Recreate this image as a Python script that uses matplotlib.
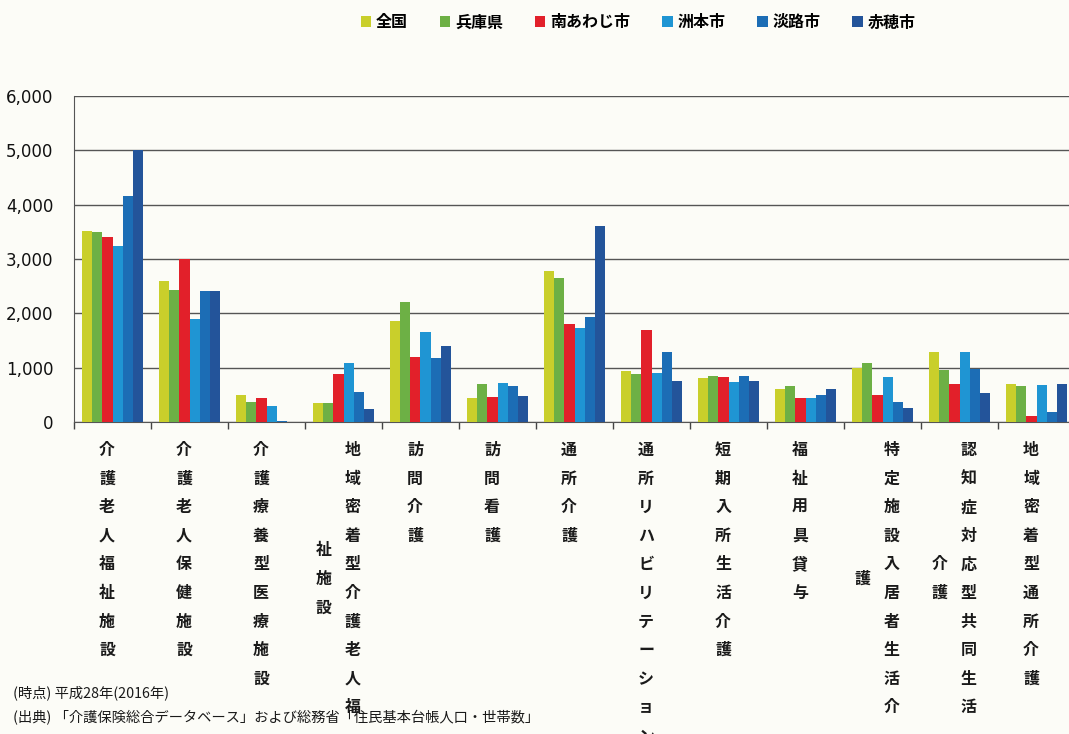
import matplotlib
matplotlib.use("Agg")
from matplotlib import pyplot as plt
import numpy as np

plt.rcParams['font.family'] = ['Noto Sans CJK JP', 'DejaVu Sans']

categories = ["介護老人福祉施設", "介護老人保健施設", "介護療養型医療施設",
              "地域密着型介護老人福祉施設", "訪問介護", "訪問看護", "通所介護",
              "通所リハビリテーション", "短期入所生活介護", "福祉用具貸与",
              "特定施設入居者生活介護", "認知症対応型共同生活介護",
              "地域密着型通所介護"]
no_wrap = ["通所リハビリテーション"]
wrap_at = 10

series = ["全国", "兵庫県", "南あわじ市", "洲本市", "淡路市", "赤穂市"]
zenkoku = [3515, 2600, 490, 350, 1850, 450, 2770, 945, 815, 600, 995, 1295, 705]
hyogo = [3500, 2425, 370, 350, 2205, 700, 2650, 890, 840, 665, 1085, 950, 665]
minamiawaji = [3405, 3005, 450, 880, 1190, 460, 1805, 1700, 830, 450, 490, 700, 105]
sumoto = [3240, 1890, 295, 1085, 1665, 710, 1735, 900, 745, 440, 820, 1290, 690]
awaji = [4155, 2410, 25, 555, 1185, 670, 1940, 1285, 855, 495, 370, 975, 175]
ako = [5000, 2405, 0, 245, 1395, 485, 3610, 750, 750, 600, 260, 530, 700]
values = [zenkoku, hyogo, minamiawaji, sumoto, awaji, ako]
colors = ["#c9cf2b", "#6db045", "#e2202a", "#1f95d3", "#1c6db5", "#23549a"]

W, H = 1069, 734
fig = plt.figure(figsize=(W / 100, H / 100), dpi=100, facecolor="#fcfcf7")
# axes in pixel terms: left 74, right 1075, top 96, bottom 422
ax = fig.add_axes([74 / W, (H - 422) / H, (1075 - 74) / W, (422 - 96) / H])
ax.set_facecolor("#fcfcf7")

n = len(categories)
x = np.arange(n)
bw = 0.8 / len(series)
for i, (name, vals, c) in enumerate(zip(series, values, colors)):
    ax.bar(x - 0.4 + bw * (i + 0.5), vals, width=bw, color=c, label=name, zorder=3)

ax.set_xlim(-0.5, n - 0.5)
ax.set_ylim(0, 6000)
ax.set_yticks(range(0, 6001, 1000))
ax.set_yticklabels([f"{v:,}" for v in range(0, 6001, 1000)],
                   family="DejaVu Sans", fontsize=12, color="#111111")
ax.tick_params(axis="y", length=0, pad=15)
ax.set_xticks(np.arange(n + 1) - 0.5)
ax.set_xticklabels([])
ax.tick_params(axis="x", length=5, color="#444444", width=1)
ax.grid(axis="y", color="#555555", linewidth=1, zorder=0)
for s in ["top", "right"]:
    ax.spines[s].set_visible(False)
ax.spines["left"].set_color("#555555")
ax.spines["bottom"].set_color("#555555")

# vertical category labels, one character at a time
step = 28.6
y0 = 450
trans = ax.get_xaxis_transform()
for i, name in enumerate(categories):
    chars = list(name)
    if len(chars) > wrap_at and name not in no_wrap:
        cols = [chars[:wrap_at], chars[wrap_at:]]
    else:
        cols = [chars]
    ncol = len(cols)
    for j, col in enumerate(cols):
        xoff = (0.5 * (ncol - 1) - j) * 29 / 77 - 0.07
        if j == 0:
            ystart = y0
        else:
            ystart = y0 + (len(cols[0]) - len(col)) * step / 2
        for k, ch in enumerate(col):
            yp = ystart + k * step
            ax.text(i + xoff, (422 - yp) / (422 - 96), ch, transform=trans,
                    ha="center", va="center", fontsize=11.5, color="#1a1a1a",
                    fontweight="bold", clip_on=False)

fig.legend(loc="upper center", bbox_to_anchor=(0.597, 1.0), ncol=6, frameon=False,
           handlelength=0.65, handleheight=0.65, handletextpad=0.3,
           columnspacing=2.0, prop={"size": 11.5, "weight": "bold"})

fig.text(13 / W, 1 - 693 / H, "(時点) 平成28年(2016年)", fontsize=10.3,
         va="center", color="#1a1a1a")
fig.text(13 / W, 1 - 718 / H,
         "(出典) 「介護保険総合データベース」および総務省「住民基本台帳人口・世帯数」",
         fontsize=10.3, va="center", color="#1a1a1a")

fig.savefig("out.png", dpi=100, facecolor=fig.get_facecolor())
